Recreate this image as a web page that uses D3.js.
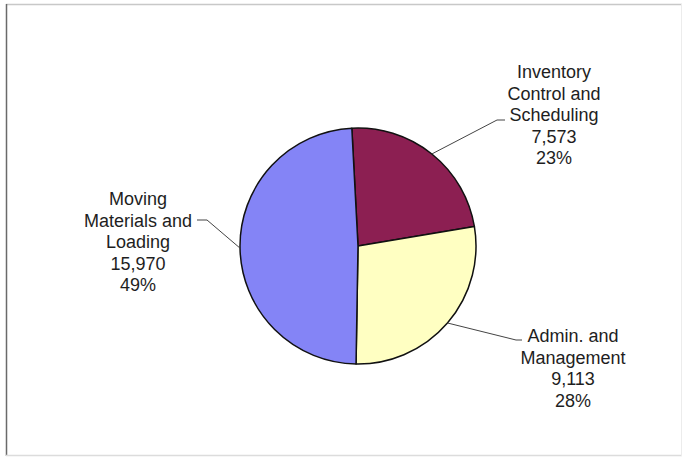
<!DOCTYPE html>
<html>
<head>
<meta charset="utf-8">
<script src="https://cdn.jsdelivr.net/npm/d3@7"></script>
<style>
  html, body { margin: 0; padding: 0; background: #fff; }
  svg { display: block; }
  text { font-family: Arial, "Liberation Sans", sans-serif; fill: #1e1e1e; }
</style>
</head>
<body>
<svg id="chart" width="688" height="464"></svg>
<script>
// Staff hours by activity
const categories = ["Inventory Control and Scheduling", "Admin. and Management", "Moving Materials and Loading"];
const labelLines = [
  ["Inventory", "Control and", "Scheduling"],
  ["Admin. and", "Management"],
  ["Moving", "Materials and", "Loading"]
];
const values = [7573, 9113, 15970];
const percentLabels = ["23%", "28%", "49%"];
const colors = ["#8c1f52", "#ffffc2", "#8484f6"];

const W = 688, H = 464;
const svg = d3.select("#chart");

// frame around the chart area
const frame = svg.append("g");
frame.append("line").attr("x1", 6).attr("x2", 682).attr("y1", 4.5).attr("y2", 4.5)
  .attr("stroke", "#c8c8c8").attr("stroke-width", 1.5);
frame.append("line").attr("x1", 6.5).attr("x2", 6.5).attr("y1", 4).attr("y2", 456)
  .attr("stroke", "#6a6a6a").attr("stroke-width", 1.5);
frame.append("line").attr("x1", 6).attr("x2", 682).attr("y1", 455.5).attr("y2", 455.5)
  .attr("stroke", "#dcdcdc").attr("stroke-width", 1.5);
frame.append("line").attr("x1", 681.5).attr("x2", 681.5).attr("y1", 4).attr("y2", 456)
  .attr("stroke", "#ececec").attr("stroke-width", 1);

const cx = 358, cy = 246, r = 118;
const startDeg = -3;

const pie = d3.pie().sort(null).value(d => d)
  .startAngle(startDeg * Math.PI / 180)
  .endAngle((startDeg + 360) * Math.PI / 180);
const arcs = pie(values);
const arc = d3.arc().innerRadius(0).outerRadius(r);

const g = svg.append("g").attr("transform", `translate(${cx},${cy})`);
g.selectAll("path.slice").data(arcs).join("path")
  .attr("class", "slice")
  .attr("d", arc)
  .attr("fill", (d, i) => colors[i])
  .attr("stroke", "#111")
  .attr("stroke-width", 1.5)
  .attr("stroke-linejoin", "round");

// label placement: text centre x, first baseline y, leader elbow and end points
const labelPos = [
  { x: 554, y: 78, elbow: [497, 120], end: [505, 120] },
  { x: 573, y: 342, elbow: [516, 340], end: [522, 340] },
  { x: 138, y: 205, elbow: [207, 220], end: [197, 220] }
];
const lineH = 21.5;
const fmt = d3.format(",");

arcs.forEach((a, i) => {
  const mid = (a.startAngle + a.endAngle) / 2;
  const sx = cx + r * Math.sin(mid), sy = cy - r * Math.cos(mid);
  const p = labelPos[i];
  svg.append("polyline")
    .attr("points", [[sx, sy], p.elbow, p.end].map(q => q.join(",")).join(" "))
    .attr("fill", "none").attr("stroke", "#444").attr("stroke-width", 1);

  const lines = labelLines[i].concat([fmt(values[i]), percentLabels[i]]);
  const t = svg.append("text").attr("text-anchor", "middle").attr("font-size", 18);
  lines.forEach((s, k) => {
    t.append("tspan").attr("x", p.x).attr("y", p.y + k * lineH).text(s);
  });
});
</script>
</body>
</html>
